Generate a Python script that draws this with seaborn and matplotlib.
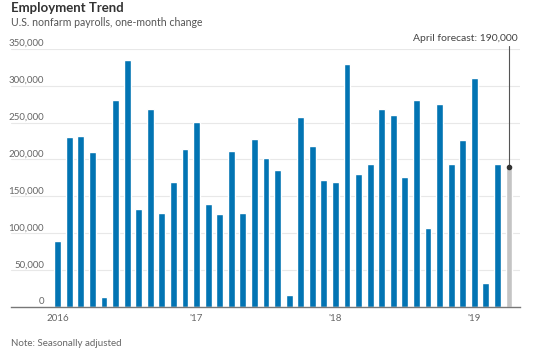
import matplotlib
matplotlib.use("Agg")
import matplotlib.pyplot as plt
import matplotlib.transforms as mtransforms
import seaborn as sns
import pandas as pd

months = pd.date_range("2016-01-01", "2019-04-01", freq="MS").strftime("%Y-%m").tolist()
values = [89000, 230500, 232000, 209700, 13500, 280500, 334700, 133000, 268800, 126700, 168700, 213800,
          250300, 138900, 125400, 211500, 126700, 227300, 202000, 185000, 16200, 258000, 218800, 172300,
          169600, 328800, 180400, 194000, 268800, 259800, 176800, 280500, 106900, 275600, 194000, 226000,
          309900, 32000, 194000, 190000]
kinds = ["Actual"] * 39 + ["Forecast"]
yticks = [0, 50000, 100000, 150000, 200000, 250000, 300000, 350000]
xtick_pos = [0, 12, 24, 36]
xtick_labels = ["2016", "'17", "'18", "'19"]

title = "Employment Trend"
subtitle = "U.S. nonfarm payrolls, one-month change"
note = "Note: Seasonally adjusted"
annotation = "April forecast: 190,000"

df = pd.DataFrame({"month": months, "value": values, "kind": kinds})

sns.set_style("white")
plt.rcParams["font.family"] = ["Lato", "DejaVu Sans"]

W, H = 550, 351
fig = plt.figure(figsize=(W / 100, H / 100), dpi=100)
left_px, right_px, top_px, bottom_px = 11, 520, 48.7, 307
ax = fig.add_axes([left_px / W, 1 - bottom_px / H, (right_px - left_px) / W, (bottom_px - top_px) / H])

sns.barplot(data=df, x="month", y="value", hue="kind", order=months,
            palette={"Actual": "#0274b3", "Forecast": "#c4c4c4"},
            dodge=False, width=0.6, legend=False, ax=ax, saturation=1)

step = (509 - 57.7) / 39
ax.set_xlim((left_px - 57.7) / step, (right_px - 57.7) / step)
ax.set_ylim(0, 350000)

for s in ["top", "right", "left"]:
    ax.spines[s].set_visible(False)
ax.spines["bottom"].set_color("#777777")
ax.spines["bottom"].set_linewidth(1.0)
ax.spines["bottom"].set_zorder(5)

ax.set_yticks(yticks)
ax.set_yticklabels([])
ax.tick_params(axis="y", length=0)
for y in yticks[1:]:
    ax.axhline(y, color="#e8e8e8", lw=0.8, zorder=0)

trans = mtransforms.blended_transform_factory(ax.transAxes, ax.transData)
for y in yticks:
    ax.text((44 - left_px) / (right_px - left_px), y + 1200, f"{y:,}", transform=trans,
            ha="right", va="bottom", fontsize=7, color="#666666")

ax.set_xticks(xtick_pos)
ax.set_xticklabels(xtick_labels, fontsize=7, color="#666666")
ax.tick_params(axis="x", length=3, width=0.8, color="#777777", pad=2)
ax.set_xlabel("")
ax.set_ylabel("")

# forecast annotation
fx = len(values) - 1
fy = values[-1]
ytop = 350000 * (bottom_px - 46) / (bottom_px - top_px)
ytext = 350000 * (bottom_px - 43) / (bottom_px - top_px)
ax.plot([fx, fx], [fy, ytop], color="#555555", lw=0.8, clip_on=False, zorder=6)
ax.plot([fx], [fy], marker="o", ms=3, color="#333333", clip_on=False, zorder=7)
ax.text(fx + (518 - 509) / step, ytext, annotation, ha="right", va="bottom",
        fontsize=7.5, color="#444444", clip_on=False)

fig.text(11 / W, 1 - 12.5 / H, title, fontsize=9.5, fontweight="bold", color="#333333", ha="left", va="baseline")
fig.text(11 / W, 1 - 25.5 / H, subtitle, fontsize=7.6, color="#555555", ha="left", va="baseline")
fig.text(11 / W, 1 - 346 / H, note, fontsize=7, color="#666666", ha="left", va="baseline")

fig.savefig("out.png", dpi=100)
